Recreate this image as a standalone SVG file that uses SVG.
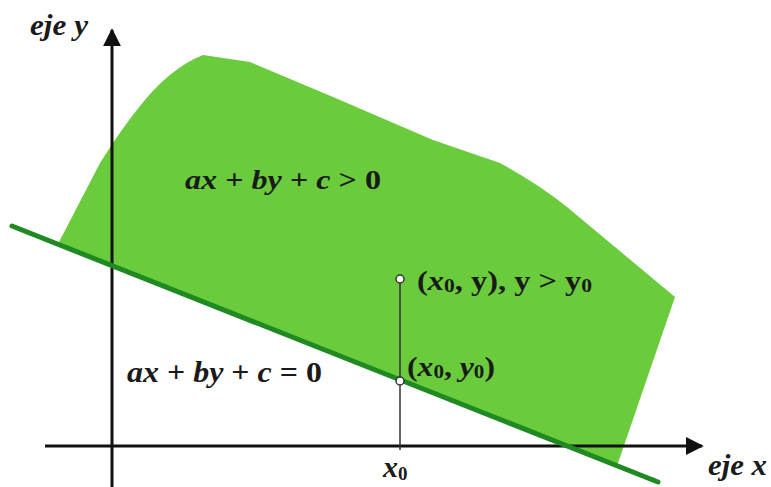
<svg xmlns="http://www.w3.org/2000/svg" width="771" height="487" viewBox="0 0 771 487">
<defs>
<style>
.t{font-family:"Liberation Serif","Times New Roman",serif;font-weight:bold;fill:#1a1a1a}
.i{font-style:italic}
.axis{stroke:#111;stroke-width:3;fill:none}
.pt{fill:#fff;stroke:#333;stroke-width:1.5}
</style>
<marker id="arr" viewBox="0 0 10 10" refX="9" refY="5" markerWidth="6" markerHeight="6" markerUnits="strokeWidth" orient="auto">
<path d="M0,0 L10,5 L0,10 Z" fill="#111"/>
</marker>
</defs>
<rect width="771" height="487" fill="#fff"/>
<g id="region">
<path d="M58,244 L100,163 Q122,128 140,106 Q170,68 203,55 L250,62 L333,97 L433,140 L500,163 Q540,185 567,207 L675,297 L617,466 Z" fill="#6acb3c"/>
</g>
<g id="connectors">
<line class="axis" x1="112" y1="487" x2="112" y2="30" marker-end="url(#arr)"/>
<line class="axis" x1="45" y1="446" x2="702" y2="446" marker-end="url(#arr)"/>
<line x1="12" y1="226" x2="658" y2="482" stroke="#1f8a22" stroke-width="5" stroke-linecap="round"/>
<line x1="400" y1="279" x2="400" y2="450" stroke="#333" stroke-width="1.5"/>
</g>
<g id="points">
<circle class="pt" cx="400" cy="279" r="4"/>
<circle class="pt" cx="400" cy="381" r="4"/>
</g>
<g id="labels">
<text class="t i" x="30" y="35" font-size="29" textLength="58" lengthAdjust="spacingAndGlyphs">eje y</text>
<text class="t i" x="708" y="475" font-size="29" textLength="59" lengthAdjust="spacingAndGlyphs">eje x</text>
<text class="t" x="185" y="189" font-size="28" textLength="196" lengthAdjust="spacingAndGlyphs"><tspan class="i">ax</tspan> + <tspan class="i">by</tspan> + <tspan class="i">c</tspan> &gt; 0</text>
<text class="t" x="127" y="382" font-size="30" textLength="195" lengthAdjust="spacingAndGlyphs"><tspan class="i">ax</tspan> + <tspan class="i">by</tspan> + <tspan class="i">c</tspan> = 0</text>
<text class="t" x="417" y="290" font-size="27" textLength="175" lengthAdjust="spacingAndGlyphs">(<tspan class="i">x</tspan><tspan font-size="18" dy="2">0</tspan><tspan dy="-2">, y), y &gt; y</tspan><tspan font-size="18" dy="2">0</tspan></text>
<text class="t" x="407" y="376" font-size="27" textLength="88" lengthAdjust="spacingAndGlyphs">(<tspan class="i">x</tspan><tspan font-size="18" dy="2">0</tspan><tspan dy="-2">, </tspan><tspan class="i">y</tspan><tspan font-size="18" dy="2">0</tspan><tspan dy="-2">)</tspan></text>
<text class="t" x="383" y="477" font-size="30"><tspan class="i">x</tspan><tspan font-size="19" dy="3">0</tspan></text>
</g>
</svg>
